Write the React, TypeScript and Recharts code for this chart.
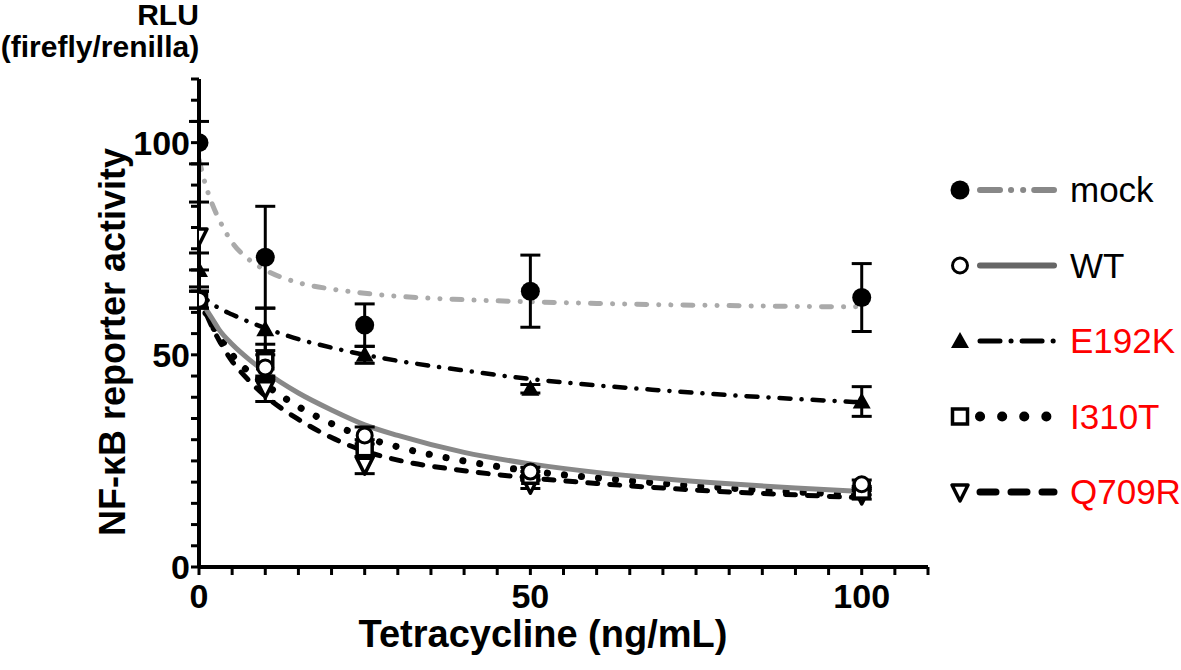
import React from "react";
import { ComposedChart, Line, Scatter, XAxis, YAxis, ErrorBar } from "recharts";

const FONT = "'Liberation Sans', Arial, Helvetica, sans-serif";

// measured points (mean ± SEM) at each tetracycline dose
const doses = [0, 10, 25, 50, 100];
const mockMean = [100, 73, 57, 65, 63.5];
const mockErr = [5, 12, 5, 8.5, 8];
const wtMean = [63, 47, 31, 22.5, 19.5];
const wtErr = [2, 3, 2, 1, 1];
const e192kMean = [70, 56, 50, 42, 39];
const e192kErr = [4, 5, 2, 1, 3.5];
const i310tMean = [63, 48.5, 28, 21.5, 18];
const i310tErr = [2, 4, 2, 1, 1];
const q709rMean = [78, 42, 24, 19.5, 17];
const q709rErr = [8, 3, 2, 1, 1];

// fitted curves
const fitX = [0, 1, 2, 3, 5, 7.5, 10, 15, 20, 25, 30, 40, 50, 60, 70, 80, 90, 100];
const mockFit = [96, 90, 85.5, 82, 76.5, 72.5, 70, 67, 65.5, 64.5, 63.8, 63, 62.5, 62.1, 61.8, 61.6, 61.4, 61.3];
const wtFit = [64, 61, 58.5, 56, 52.5, 49, 46, 41, 37, 33.5, 31, 27, 24.3, 22.3, 20.8, 19.6, 18.6, 17.8];
const e192kFit = [64.5, 63.2, 62, 61, 59.5, 57.8, 56.3, 53.7, 51.7, 50, 48.6, 46.3, 44.3, 42.8, 41.6, 40.5, 39.6, 38.8];
const i310tFit = [63.5, 60, 57, 54.5, 50, 46, 43, 37.8, 33.8, 30.6, 28.3, 25, 22.6, 21, 19.7, 18.6, 17.7, 17];
const q709rFit = [64, 60, 56.5, 53.5, 48.5, 44, 40.3, 34.8, 30.5, 27.3, 25.2, 22.7, 21, 19.7, 18.6, 17.7, 17, 16.3];

const seriesNames = ["mock", "WT", "E192K", "I310T", "Q709R"];
const nameColors = ["#000", "#000", "#ff0000", "#ff0000", "#ff0000"];

const xTicks = [0, 5, 10, 15, 20, 25, 30, 35, 40, 45, 50, 55, 60, 65, 70, 75, 80, 85, 90, 95, 100, 105, 110];
const yTicks = [0, 5, 10, 15, 20, 25, 30, 35, 40, 45, 50, 55, 60, 65, 70, 75, 80, 85, 90, 95, 100, 105, 110, 115];
const labelledTicks = [0, 50, 100];

const toPoints = (mean: number[], err: number[]) =>
  doses.map((x, i) => ({ x, y: mean[i], err: err[i] }));
const toCurve = (ys: number[]) => fitX.map((x, i) => ({ x, y: ys[i] }));

// marker shapes
const FilledCircle = ({ cx, cy }: any) => <circle cx={cx} cy={cy} r={9.5} fill="#000" />;
const OpenCircle = ({ cx, cy }: any) => (
  <circle cx={cx} cy={cy} r={7.5} fill="#fff" stroke="#000" strokeWidth={3} />
);
const FilledTriangle = ({ cx, cy }: any) => (
  <path d={`M${cx},${cy - 9} L${cx + 9},${cy + 7} L${cx - 9},${cy + 7} Z`} fill="#000" />
);
const OpenSquare = ({ cx, cy }: any) => (
  <rect x={cx - 7.5} y={cy - 7.5} width={15} height={15} fill="#fff" stroke="#000" strokeWidth={3.5} />
);
const OpenDownTriangle = ({ cx, cy }: any) => (
  <path
    d={`M${cx - 8},${cy - 7} L${cx + 8},${cy - 7} L${cx},${cy + 9} Z`}
    fill="#fff"
    stroke="#000"
    strokeWidth={3.5}
    strokeLinejoin="round"
  />
);

const XTick = ({ x, y, payload }: any) => {
  if (!labelledTicks.includes(payload.value)) return null;
  return (
    <text x={x} y={y + 31} textAnchor="middle" fontFamily={FONT} fontWeight="bold" fontSize={34} fill="#000">
      {payload.value}
    </text>
  );
};

const YTick = ({ x, y, payload }: any) => {
  if (!labelledTicks.includes(payload.value)) return null;
  return (
    <text x={x + 1} y={y + 12} textAnchor="end" fontFamily={FONT} fontWeight="bold" fontSize={34} fill="#000">
      {payload.value}
    </text>
  );
};

const curves = [
  { data: toCurve(mockFit), stroke: "#aaaaaa", width: 5, dash: "10 12 0.1 12 0.1 12", cap: "round" },
  { data: toCurve(e192kFit), stroke: "#000", width: 4.5, dash: "11 11 0.1 11", cap: "round" },
  { data: toCurve(q709rFit), stroke: "#000", width: 5, dash: "10 12", cap: "round" },
  { data: toCurve(i310tFit), stroke: "#000", width: 7, dash: "0.1 17", cap: "round" },
  { data: toCurve(wtFit), stroke: "#888888", width: 5, dash: undefined, cap: "butt" },
];

const points = [
  { data: toPoints(mockMean, mockErr), shape: FilledCircle },
  { data: toPoints(e192kMean, e192kErr), shape: FilledTriangle },
  { data: toPoints(q709rMean, q709rErr), shape: OpenDownTriangle },
  { data: toPoints(i310tMean, i310tErr), shape: OpenSquare },
  { data: toPoints(wtMean, wtErr), shape: OpenCircle },
];

// legend samples: marker + line style per series
const legendRows = [
  { marker: FilledCircle, stroke: "#888", width: 6, dash: "20 11 0.1 12 0.1 11", cap: "round" },
  { marker: OpenCircle, stroke: "#666", width: 6, dash: undefined, cap: "round" },
  { marker: FilledTriangle, stroke: "#000", width: 5, dash: "20 11 0.1 11", cap: "round" },
  { marker: OpenSquare, stroke: "#000", width: 10, dash: "0.1 22", cap: "round" },
  { marker: OpenDownTriangle, stroke: "#000", width: 7, dash: "16 15", cap: "round" },
];

export default function App() {
  return (
    <div style={{ position: "absolute", left: 0, top: 0, width: 1181, height: 670, background: "#fff" }}>
      <ComposedChart
        width={1181}
        height={670}
        margin={{ top: 79, right: 253, left: 139, bottom: 73 }}
      >
        <XAxis
          type="number"
          dataKey="x"
          domain={[0, 110]}
          ticks={xTicks}
          interval={0}
          tick={<XTick />}
          tickSize={8}
          height={30}
          axisLine={{ stroke: "#000", strokeWidth: 4 }}
          tickLine={{ stroke: "#000", strokeWidth: 3 }}
          allowDataOverflow
        />
        <YAxis
          type="number"
          domain={[0, 115]}
          ticks={yTicks}
          interval={0}
          tick={<YTick />}
          tickSize={8}
          width={60}
          axisLine={{ stroke: "#000", strokeWidth: 4 }}
          tickLine={{ stroke: "#000", strokeWidth: 3 }}
          allowDataOverflow
        />
        {curves.map((c, i) => (
          <Line
            key={`fit-${i}`}
            data={c.data}
            dataKey="y"
            type="monotone"
            stroke={c.stroke}
            strokeWidth={c.width}
            strokeDasharray={c.dash}
            strokeLinecap={c.cap as any}
            dot={false}
            activeDot={false}
            isAnimationActive={false}
          />
        ))}
        {points.map((p, i) => (
          <Scatter key={`pts-${i}`} data={p.data} dataKey="y" shape={p.shape} isAnimationActive={false}>
            <ErrorBar dataKey="err" direction="y" width={10} stroke="#000" strokeWidth={3} />
          </Scatter>
        ))}
      </ComposedChart>

      <svg
        width={1181}
        height={670}
        style={{ position: "absolute", left: 0, top: 0, pointerEvents: "none" }}
      >
        <text x={168} y={25} textAnchor="middle" fontFamily={FONT} fontWeight="bold" fontSize={30}>
          RLU
        </text>
        <text x={100} y={57} textAnchor="middle" fontFamily={FONT} fontWeight="bold" fontSize={30}>
          (firefly/renilla)
        </text>
        <text
          transform="translate(125,342) rotate(-90)"
          textAnchor="middle"
          fontFamily={FONT}
          fontWeight="bold"
          fontSize={36}
        >
          NF-κB reporter activity
        </text>
        <text x={543} y={647} textAnchor="middle" fontFamily={FONT} fontWeight="bold" fontSize={38}>
          Tetracycline (ng/mL)
        </text>
        {legendRows.map((r, i) => {
          const y = 190 + i * 75.5;
          const Marker = r.marker;
          return (
            <g key={seriesNames[i]}>
              <line
                x1={980}
                x2={1054}
                y1={y}
                y2={y}
                stroke={r.stroke}
                strokeWidth={r.width}
                strokeDasharray={r.dash}
                strokeLinecap={r.cap as any}
              />
              <Marker cx={960} cy={y} />
              <text x={1070} y={y + 12} fontFamily={FONT} fontSize={35} fill={nameColors[i]}>
                {seriesNames[i]}
              </text>
            </g>
          );
        })}
      </svg>
    </div>
  );
}
